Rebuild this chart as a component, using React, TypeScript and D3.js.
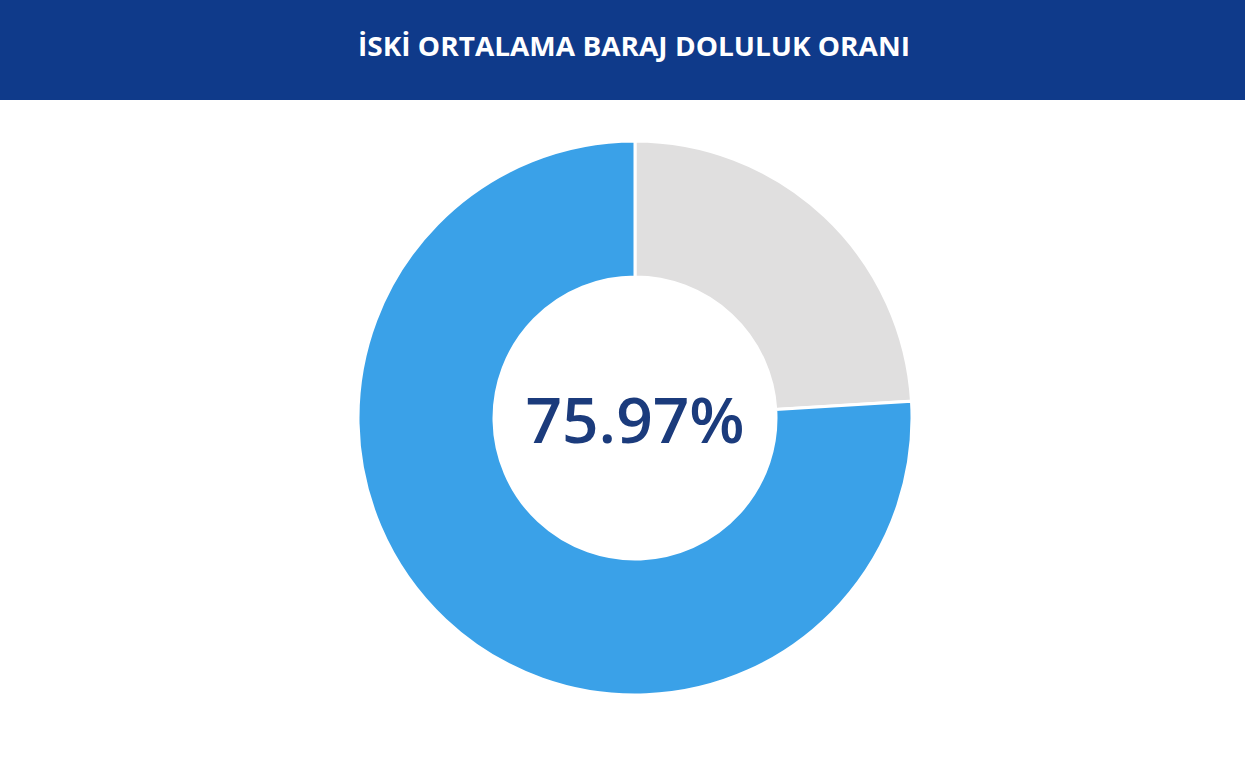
import React from 'react'
import * as d3 from 'd3'

const title = 'İSKİ ORTALAMA BARAJ DOLULUK ORANI'
const sliceNames = ['Boş', 'Dolu']
const sliceValues = [24.03, 75.97]
const sliceColors = ['#e0dfdf', '#3aa1e8']
const centerLabel = '75.97%'

const W = 1245
const H = 780

export default function App() {
  const cx = 635
  const cy = 418
  const outerR = 277
  const innerR = 141

  const pie = d3.pie<number>().sort(null).value(d => d)
  const arcs = pie(sliceValues)
  const arc = d3.arc<d3.PieArcDatum<number>>().innerRadius(innerR).outerRadius(outerR)

  return (
    <svg
      width={W}
      height={H}
      style={{ position: 'absolute', left: 0, top: 0, background: '#ffffff' }}
    >
      {/* header band */}
      <rect x={0} y={0} width={W} height={100} fill="#0f3a8a" />
      <text
        x={634}
        y={46}
        textAnchor="middle"
        dominantBaseline="central"
        fill="#ffffff"
        fontFamily="'Open Sans', sans-serif"
        fontWeight={700}
        fontSize={26}
        textLength={552}
        lengthAdjust="spacingAndGlyphs"
      >
        {title}
      </text>

      <g transform={`translate(${cx},${cy})`}>
        {arcs.map((a, i) => (
          <path
            key={sliceNames[i]}
            d={arc(a) || ''}
            fill={sliceColors[i]}
            stroke="#ffffff"
            strokeWidth={3}
          />
        ))}
        <text
          x={0}
          y={0}
          textAnchor="middle"
          dominantBaseline="central"
          fill="#1b3b7c"
          fontFamily="'Open Sans', sans-serif"
          fontWeight={600}
          fontSize={64}
        >
          {centerLabel}
        </text>
      </g>
    </svg>
  )
}
